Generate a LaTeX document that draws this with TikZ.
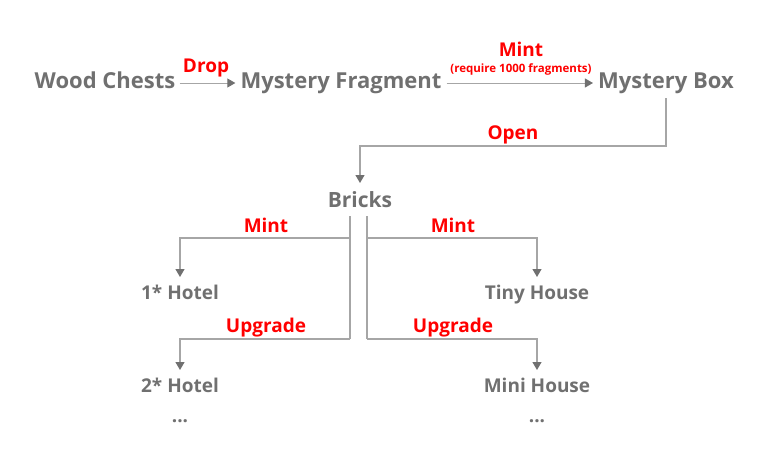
\documentclass[tikz,border=0pt]{standalone}
\usepackage{fontspec}
\setmainfont{Open Sans}
\usetikzlibrary{arrows.meta,calc}
\definecolor{txtgray}{HTML}{707070}
\definecolor{linegray}{HTML}{A6A6A6}
\definecolor{tipgray}{HTML}{707070}
\definecolor{lblred}{HTML}{FF0000}
\tikzset{
  big/.style={text=txtgray,font=\fontsize{22}{24}\selectfont\bfseries,inner sep=0pt,anchor=base},
  brk/.style={text=txtgray,font=\fontsize{21}{24}\selectfont\bfseries,inner sep=0pt,anchor=base},
  mid/.style={text=txtgray,font=\fontsize{19}{22}\selectfont\bfseries,inner sep=0pt,anchor=base},
  lbl/.style={text=lblred,font=\fontsize{19}{22}\selectfont\bfseries,inner sep=0pt,anchor=base},
  small/.style={text=lblred,font=\fontsize{11.5}{13}\selectfont\bfseries,inner sep=0pt,anchor=base},
  conn/.style={draw=linegray,line width=1.2pt,-{Triangle[length=8pt,width=9pt,color=tipgray]}},
  plain/.style={draw=linegray,line width=1.2pt},
}
\begin{document}
\begin{tikzpicture}[x=1pt,y=-1pt]
\useasboundingbox (0,0) rectangle (766,458);
\node[big] (wood) at (105,88) {Wood Chests};
\node[big] (frag) at (341,88) {Mystery Fragment};
\node[big] (box) at (666,88) {Mystery Box};
\node[brk] (bricks) at (360,207) {Bricks};
\node[mid] (h1) at (180,299) {1* Hotel};
\node[mid] (h2) at (180,392) {2* Hotel};
\node[mid] (hd) at (180,422) {...};
\node[mid] (t1) at (537,299) {Tiny House};
\node[mid] (t2) at (537,392) {Mini House};
\node[mid] (td) at (537,422) {...};
\node[lbl] (ldrop) at (206,72) {Drop};
\node[lbl] (lmint) at (521,56) {Mint};
\node[small] (lreq) at (521,72) {(require 1000 fragments)};
\node[lbl] (lopen) at (513,139) {Open};
\node[lbl] (lm1) at (266,232) {Mint};
\node[lbl] (lu1) at (266,332) {Upgrade};
\node[lbl] (lm2) at (453,232) {Mint};
\node[lbl] (lu2) at (453,332) {Upgrade};
\coordinate (boxout) at (666,98);
\coordinate (bl) at (350,216);
\coordinate (blm) at (350,238);
\coordinate (blb) at (350,339);
\coordinate (br) at (367,216);
\coordinate (brm) at (367,238);
\coordinate (brb) at (367,339);
\draw[conn,line width=0.9pt] ([xshift=4pt,yshift=5pt]wood.base east) -- ([xshift=-5pt,yshift=5pt]frag.base west);
\draw[conn,line width=0.9pt] ([xshift=5pt,yshift=5pt]frag.base east) -- ([xshift=-5pt,yshift=5pt]box.base west);
\draw[conn] (boxout) |- ++(-306,48) -- ([yshift=24pt]bricks.base);
\draw[plain] (bl) -- (blb);
\draw[conn] (blm) -| ([yshift=22pt]h1.base);
\draw[conn] (blb) -| ([yshift=22pt]h2.base);
\draw[plain] (br) -- (brb);
\draw[conn] (brm) -| ([yshift=22pt]t1.base);
\draw[conn] (brb) -| ([yshift=22pt]t2.base);
\end{tikzpicture}
\end{document}
